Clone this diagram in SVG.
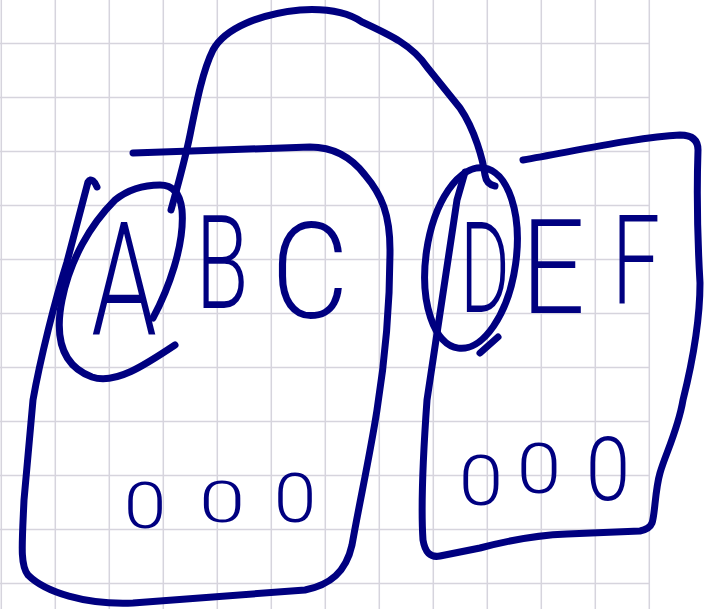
<svg xmlns="http://www.w3.org/2000/svg" width="718" height="609" viewBox="0 0 718 609">
<style>
.grid line{stroke:#d6d4dd;stroke-width:1.5}
.ink{fill:none;stroke:#000080;stroke-width:7;stroke-linecap:round;stroke-linejoin:round}
.letter{font-family:Roboto,Inter,Lato,"Open Sans","Liberation Sans",sans-serif;font-weight:300;fill:#000080;text-anchor:middle}
.zero{font-family:Roboto,Inter,Lato,"Open Sans","Liberation Sans",sans-serif;font-weight:300;fill:#000080;text-anchor:middle;font-size:64px}
</style>
<rect width="718" height="609" fill="#ffffff"/>
<g class="grid">
<line x1="1.3" y1="0" x2="1.3" y2="609"/><line x1="55.3" y1="0" x2="55.3" y2="609"/><line x1="109.3" y1="0" x2="109.3" y2="609"/><line x1="163.3" y1="0" x2="163.3" y2="609"/><line x1="217.3" y1="0" x2="217.3" y2="609"/><line x1="271.3" y1="0" x2="271.3" y2="609"/><line x1="325.3" y1="0" x2="325.3" y2="609"/><line x1="379.3" y1="0" x2="379.3" y2="609"/><line x1="433.3" y1="0" x2="433.3" y2="609"/><line x1="487.3" y1="0" x2="487.3" y2="609"/><line x1="541.3" y1="0" x2="541.3" y2="609"/><line x1="595.3" y1="0" x2="595.3" y2="609"/><line x1="649.3" y1="0" x2="649.3" y2="609"/>
<line x1="0" y1="43.5" x2="650" y2="43.5"/><line x1="0" y1="97.5" x2="650" y2="97.5"/><line x1="0" y1="151.5" x2="650" y2="151.5"/><line x1="0" y1="205.5" x2="650" y2="205.5"/><line x1="0" y1="259.5" x2="650" y2="259.5"/><line x1="0" y1="313.5" x2="650" y2="313.5"/><line x1="0" y1="367.5" x2="650" y2="367.5"/><line x1="0" y1="421.5" x2="650" y2="421.5"/><line x1="0" y1="475.5" x2="650" y2="475.5"/><line x1="0" y1="529.5" x2="650" y2="529.5"/><line x1="0" y1="583.5" x2="650" y2="583.5"/>
</g>
<g id="node-abc">
<path class="ink" d="M133,153 L310,147 C335,147 352,158 365,175 C382,195 390,215 390,250 C390,300 385,360 377,410 C370,455 360,500 352,545 C346,572 330,585 305,590 L133,603 C85,605 45,592 28,575 C20,565 22,545 24,500 L33,400 C40,360 55,300 67,262 L88,182 C91,177 95,182 97,187"/>
<path class="ink" d="M153,318 C168,290 185,245 182,210 C180,192 172,185 160,185 C140,185 125,192 115,200 C90,225 70,260 62,300 C55,335 60,365 92,377 C115,385 145,365 175,345"/>
<text class="letter" font-size="105" transform="translate(124,334) scale(1,1.5)">A</text>
<text class="letter" font-size="86" transform="translate(222,308) scale(1,1.52)">B</text>
<text class="letter" font-size="119" transform="translate(310,318) scale(1,1.12)">C</text>
<text class="zero" transform="translate(145,528) scale(1.2,1)">0</text>
<text class="zero" transform="translate(222,522) scale(1.3,0.9)">0</text>
<text class="zero" transform="translate(295,522) scale(1.2,1.08)">0</text>
</g>
<g id="node-def">
<path class="ink" d="M523,160 C580,150 640,137 680,135 C692,135 698,140 698,150 C697,180 697,230 700,283 C700,320 693,360 683,400 C678,430 665,455 660,473 C655,490 655,515 652,523 C650,528 645,530 640,531 L567,534 C540,535 510,540 480,548 L440,556 C430,558 425,552 423,540 C421,510 422,470 427,400 L457,200 L465,172"/>
<ellipse class="ink" cx="471" cy="258" rx="45" ry="91" transform="rotate(8 471 258)"/>
<path class="ink" d="M480,353 L498,337"/>
<text class="letter" font-size="76" font-weight="400" transform="translate(485,312) scale(1,1.65)">D</text>
<text class="letter" font-size="112" transform="translate(553,313) scale(1,1.18)">E</text>
<text class="letter" font-size="86" transform="translate(636,303) scale(1,1.44)">F</text>
<text class="zero" transform="translate(481,505) scale(1.25,1.1)">0</text>
<text class="zero" transform="translate(539,493) scale(1.25,1.1)">0</text>
<text class="zero" transform="translate(608,500) scale(1.25,1.4)">0</text>
</g>
<g id="connectors">
<path class="ink" d="M171,210 C178,185 185,160 190,135 C197,100 203,70 213,50 C225,28 260,14 300,10 C330,8 350,14 362,22 C390,35 412,45 427,67 L460,108 C475,130 483,160 485,175 C486,182 490,185 495,186"/>
</g>
</svg>
